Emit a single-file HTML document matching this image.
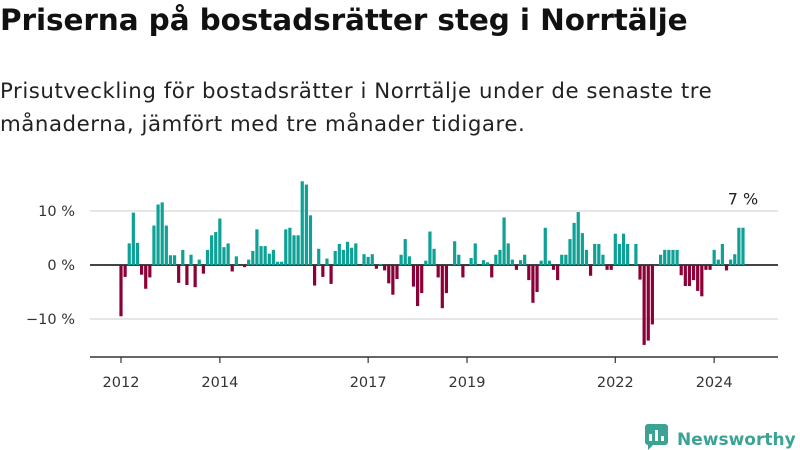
<!DOCTYPE html>
<html><head><meta charset="utf-8"><style>
body{margin:0;width:800px;height:450px;background:#fff;font-family:"DejaVu Sans","Liberation Sans",sans-serif;overflow:hidden;position:relative;color:#111}
#title{position:absolute;left:0;top:3px;font-size:29.5px;font-weight:bold;letter-spacing:-0.1px;white-space:nowrap}
#sub{position:absolute;left:0;top:75px;font-size:21.3px;line-height:33px;color:#222;white-space:nowrap;letter-spacing:0.55px}
svg{position:absolute;left:0;top:0}
#logo{position:absolute;left:645px;top:419px;font-size:17px;font-weight:bold;color:#3aa394;white-space:nowrap}
</style></head><body>
<div id="title">Priserna på bostadsrätter steg i Norrtälje</div>
<div id="sub">Prisutveckling för bostadsrätter i Norrtälje under de senaste tre<br>månaderna, jämfört med tre månader tidigare.</div>
<svg id="chart" width="800" height="450"></svg>
<div id="logo"><svg width="24" height="26" style="position:relative;top:5px;left:0;margin-right:8px" viewBox="0 0 24 26"><rect x="0" y="0" width="23" height="21" rx="3" fill="#3aa394"/><rect x="4" y="10" width="3" height="7" fill="#fff"/><rect x="10" y="6" width="3" height="11" fill="#fff"/><rect x="16" y="12" width="3" height="5" fill="#fff"/><path d="M3 21 L3 26 L8 21Z" fill="#3aa394"/></svg>Newsworthy</div>
<script>
const values=[-9.5,-2.2,4,9.7,4.1,-1.8,-4.4,-2.3,7.3,11.2,11.6,7.3,1.8,1.8,-3.3,2.8,-3.7,1.9,-4.1,1,-1.6,2.8,5.5,6.1,8.6,3.3,4,-1.2,1.6,0,-0.4,1,2.6,6.6,3.5,3.5,2.1,2.8,0.6,0.6,6.6,6.9,5.5,5.5,15.5,14.9,9.2,-3.8,3,-2.2,1.2,
-3.5,2.6,3.9,2.8,4.3,3.2,4,0,2,1.5,2,-0.7,0.2,-1,-3.4,-5.5,-2.6,1.9,4.8,1.6,-4,-7.6,-5.2,0.8,6.2,3,-2.3,-8,-5.2,0,4.4,1.9,-2.3,-0.2,1.3,4,0,0.9,0.5,-2.3,1.9,2.8,8.8,4,1,-0.9,0.9,1.9,-2.8,
-7,-5,0.8,6.9,0.8,-0.9,-2.8,1.9,1.9,4.8,7.8,9.8,5.9,2.8,-2,3.9,3.9,1.9,-0.9,-0.9,5.8,3.9,5.8,3.9,0,3.9,-2.7,-14.8,-14,-11,0,1.9,2.8,2.8,2.8,2.8,-1.9,-3.9,-3.9,-2.8,-4.8,-5.8,-0.9,-0.9,2.8,1,3.9,-1,1,2,6.9,6.9];
const yTicks=[10,0,-10];
const yTickLabels=["10 %","0 %","−10 %"];
const xTickYears=[2012,2014,2017,2019,2022,2024];
const xTickPos=[0,24,60,84,120,144];
const lastLabel="7 %";
const svg=document.getElementById('chart');const NS="http://www.w3.org/2000/svg";
function mk(t,a){const e=document.createElementNS(NS,t);for(const k in a)e.setAttribute(k,a[k]);svg.appendChild(e);return e;}
const n=values.length;
const x0=121,x1=743;
const step=(x1-x0)/(n-1);
const xs=i=>x0+i*step;
const ys=v=>265-v*5.4;
yTicks.forEach((t,i)=>{
 const g=mk('line',{x1:90,x2:778,y1:ys(t),y2:ys(t),stroke:t===0?'#444':'#ddd','stroke-width':t===0?2:1.5});
 
 
 const tx=mk('text',{x:75,y:ys(t)+5,'text-anchor':'end','font-size':14.5,fill:'#333'});tx.textContent=yTickLabels[i];
 
 
});
values.forEach((v,i)=>{
 const r=mk('rect',{x:xs(i)-1.6,width:3.2,y:Math.min(ys(v),ys(0)),height:Math.abs(ys(v)-ys(0)),fill:v>=0?'#0ea195':'#8c0038'});
 
 
});
const ax=mk('line',{x1:90,x2:778,y1:357,y2:357,stroke:'#333','stroke-width':1.5});


xTickYears.forEach((yr,i)=>{
 const px=x0+xTickPos[i]*step;
 const tk=mk('line',{x1:px,x2:px,y1:357,y2:363,stroke:'#333','stroke-width':1.2});
 
 
 const t=mk('text',{x:px,y:387,'text-anchor':'middle','font-size':14.5,fill:'#333'});t.textContent=yr;
 
 
});
const lv=values[n-1];
const ll=mk('text',{x:xs(n-1),y:ys(lv)-23,'text-anchor':'middle','font-size':16,fill:'#222'});ll.textContent=lastLabel;


</script>
</body></html>
